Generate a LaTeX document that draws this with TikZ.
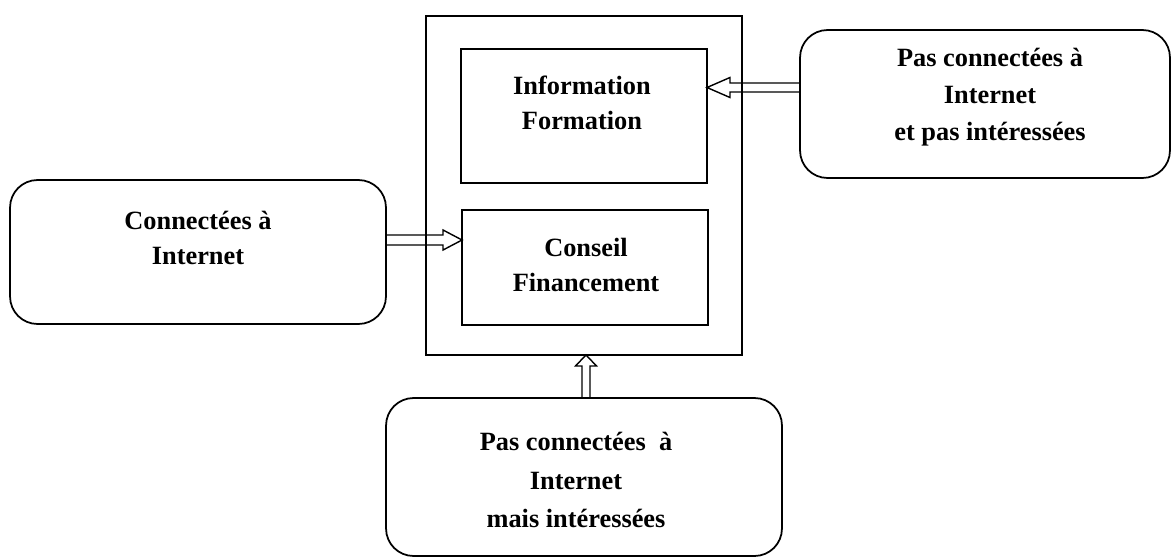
\documentclass[tikz,border=0pt]{standalone}
\usepackage{fontspec}
\setmainfont{Liberation Serif}
\usetikzlibrary{calc}

% hollow block arrow: #1 tail, #2 tip, #3 shaft half-width, #4 head half-width, #5 head length
\newcommand\blockarrow[5]{%
  \coordinate (hb) at ($(#2)!#5!(#1)$);
  \draw[arrowline]
    ($(#1)!#3!90:(#2)$) -- ($(hb)!#3!90:(#2)$) -- ($(hb)!#4!90:(#2)$) -- (#2)
    -- ($(hb)!#4!-90:(#2)$) -- ($(hb)!#3!-90:(#2)$) -- ($(#1)!#3!-90:(#2)$) -- cycle;
}

\begin{document}
\begin{tikzpicture}[x=0.02cm, y=-0.02cm,
  box/.style={draw, line width=1pt, inner sep=0pt, outer sep=0pt},
  rbox/.style={box, rounded corners=0.55cm},
  txt/.style={font=\fontsize{15}{20}\selectfont\bfseries, align=center, inner sep=0pt},
  arrowline/.style={line width=0.8pt, line join=miter}]
\useasboundingbox (0,0) rectangle (1172,558);

% central frame and its two services
\node[box, line width=1.2pt, minimum width=6.32cm, minimum height=6.78cm] (outer) at (584,185.5) {};
\node[box, minimum width=4.92cm, minimum height=2.68cm] (info) at (584,116) {};
\node[box, minimum width=4.92cm, minimum height=2.30cm] (cf) at (585,267.5) {};

% the three groups of firms
\node[rbox, minimum width=7.52cm, minimum height=2.88cm] (left) at (198,252) {};
\node[rbox, minimum width=7.40cm, minimum height=2.96cm] (right) at (985,104) {};
\node[rbox, minimum width=7.92cm, minimum height=3.16cm] (bottom) at (584,477) {};

% texts
\node[txt] (tinfo) at (582,103) {Information\\Formation};
\node[txt] (tcf) at (586,265) {Conseil\\Financement};
\node[txt] (tleft) at (198,238) {Connectées à\\Internet};
\node[txt, font=\fontsize{15}{21}\selectfont\bfseries] (tright) at (990,97) {Pas connectées à\\Internet\\et pas intéressées};
\node[txt, font=\fontsize{15}{22}\selectfont\bfseries] (tbottom) at (576,480) {Pas connectées\ \ à\\Internet\\mais intéressées};

% arrows
\coordinate (a1s) at (left.east |- 0,240);
\coordinate (a1e) at (cf.west |- 0,240);
\blockarrow{a1s}{a1e}{0.1cm}{0.2cm}{0.38cm}

\coordinate (a2s) at (right.west |- 0,87.5);
\coordinate (a2e) at (info.east |- 0,87.5);
\blockarrow{a2s}{a2e}{0.09cm}{0.2cm}{0.46cm}

\coordinate (a3s) at (586,0 |- bottom.north);
\coordinate (a3e) at (586,0 |- outer.south);
\blockarrow{a3s}{a3e}{0.08cm}{0.21cm}{0.22cm}
\end{tikzpicture}
\end{document}
